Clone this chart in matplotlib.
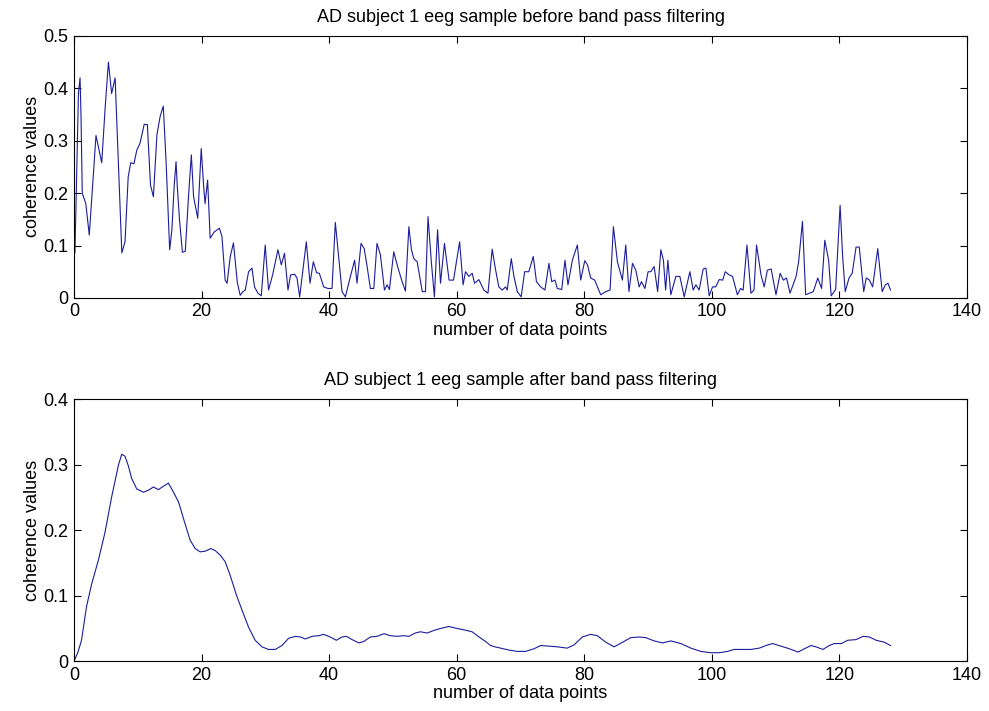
import numpy as np
import matplotlib
matplotlib.use("Agg")
import matplotlib.pyplot as plt

plt.rcParams['font.family'] = ['Liberation Sans', 'DejaVu Sans']

# --- data (vertex positions of the traces) ---
raw_x = [0, 0.15, 0.7, 0.95, 1.1, 1.3, 1.85, 2.4, 3.0, 3.45, 4.35, 4.9, 5.4, 5.9, 6.45, 7.0,
         7.5, 8.0, 8.5, 8.9, 9.4, 9.85, 10.35, 11.0, 11.5, 12.0, 12.45, 13.0, 13.5, 14.0, 14.45,
         15.0, 15.35, 15.7, 16.0, 16.2, 16.55, 17.0, 17.45, 17.95, 18.4, 18.75, 19.4, 19.95,
         20.3, 20.55, 20.95, 21.35, 22.0, 22.8, 23.2, 23.7, 24.0, 24.5, 25.0, 25.6, 26.05,
         26.5, 26.85, 27.37, 27.9, 28.3, 28.84, 29.36, 29.98, 30.5, 31.14, 31.97, 32.5, 33.0,
         33.55, 33.96, 34.6, 34.96, 35.38, 36.42, 37.0, 37.52, 38.04, 38.46, 39.15, 39.82,
         40.45, 40.97, 41.6, 42.02, 42.55, 43.33, 44.0, 44.37, 45.0, 45.5, 45.95, 46.47, 47.0,
         47.5, 48.04, 48.67, 49.1, 49.45, 50.13, 50.8, 51.44, 51.96, 52.5, 52.9, 53.27, 53.8,
         54.6, 55.1, 55.5, 56.04, 56.5, 57.0, 57.46, 58.08, 58.8, 59.5, 60.45, 61.0, 61.38,
         61.9, 62.43, 62.8, 63.47, 64.25, 64.9, 65.56, 66.1, 66.6, 67.14, 67.66, 67.92, 68.55,
         68.97, 69.5, 70.1, 70.65, 71.3, 72.0, 72.5, 73.16, 73.83, 74.46, 74.89, 75.4, 75.77,
         76.46, 76.97, 77.44, 78.13, 78.91, 79.44, 80.07, 80.5, 81.0, 81.63, 82.57, 83.36,
         84.04, 84.56, 85.19, 85.97, 86.5, 87.0, 87.55, 88.07, 88.6, 88.96, 89.5, 90.0, 90.42,
         90.94, 91.5, 92.0, 92.4, 92.75, 93.1, 93.56, 94.35, 94.98, 95.66, 96.55, 97.07, 97.49,
         98.0, 98.63, 99.06, 99.58, 100.1, 100.6, 101.15, 101.7, 102.1, 102.7, 103.24, 104.0,
         104.5, 104.9, 105.5, 106.12, 106.6, 107.0, 107.7, 108.2, 108.7, 109.3, 110.05, 110.7,
         111.2, 111.7, 112.25, 113.2, 113.6, 114.2, 114.7, 115.9, 116.6, 117.2, 117.7, 118.3,
         118.7, 119.4, 120.1, 120.5, 120.9, 121.5, 122.0, 122.6, 123.1, 123.8, 124.2, 124.7,
         125.2, 126.0, 126.7, 127.2, 127.6, 128.0]
raw_y = [0.14, 0.086, 0.39, 0.42, 0.35, 0.20, 0.18, 0.12, 0.23, 0.31, 0.258, 0.365, 0.45, 0.39,
         0.42, 0.244, 0.086, 0.107, 0.231, 0.258, 0.256, 0.282, 0.295, 0.331, 0.331, 0.215,
         0.193, 0.311, 0.346, 0.366, 0.257, 0.092, 0.13, 0.212, 0.26, 0.212, 0.148, 0.087,
         0.089, 0.193, 0.273, 0.193, 0.152, 0.285, 0.218, 0.18, 0.225, 0.114, 0.126, 0.133,
         0.117, 0.034, 0.028, 0.079, 0.105, 0.03, 0.005, 0.012, 0.015, 0.050, 0.057, 0.021,
         0.009, 0.004, 0.101, 0.015, 0.044, 0.092, 0.063, 0.085, 0.015, 0.044, 0.045, 0.038,
         0.002, 0.107, 0.028, 0.069, 0.048, 0.047, 0.021, 0.018, 0.018, 0.144, 0.066, 0.012,
         0.002, 0.041, 0.072, 0.028, 0.104, 0.094, 0.060, 0.018, 0.018, 0.104, 0.082, 0.015,
         0.025, 0.016, 0.088, 0.057, 0.031, 0.013, 0.136, 0.092, 0.075, 0.069, 0.012, 0.012,
         0.155, 0.066, 0.002, 0.130, 0.028, 0.104, 0.034, 0.034, 0.107, 0.025, 0.050, 0.041,
         0.047, 0.028, 0.035, 0.015, 0.009, 0.093, 0.053, 0.021, 0.015, 0.021, 0.015, 0.075,
         0.041, 0.012, 0.002, 0.050, 0.050, 0.079, 0.031, 0.021, 0.015, 0.066, 0.031, 0.034,
         0.018, 0.016, 0.072, 0.025, 0.072, 0.101, 0.034, 0.071, 0.063, 0.038, 0.034, 0.006,
         0.012, 0.015, 0.136, 0.069, 0.034, 0.101, 0.012, 0.066, 0.053, 0.021, 0.031, 0.018,
         0.050, 0.050, 0.060, 0.012, 0.092, 0.072, 0.015, 0.072, 0.006, 0.041, 0.041, 0.002,
         0.050, 0.015, 0.025, 0.015, 0.055, 0.057, 0.004, 0.021, 0.021, 0.035, 0.034, 0.050,
         0.044, 0.041, 0.006, 0.018, 0.015, 0.101, 0.009, 0.015, 0.101, 0.044, 0.021, 0.053,
         0.055, 0.006, 0.047, 0.034, 0.038, 0.009, 0.041, 0.069, 0.146, 0.006, 0.012, 0.038,
         0.018, 0.110, 0.072, 0.004, 0.016, 0.177, 0.079, 0.012, 0.038, 0.047, 0.097, 0.097,
         0.012, 0.038, 0.034, 0.021, 0.094, 0.012, 0.025, 0.028, 0.015]

filt_x = [0, 0.63, 1.18, 1.96, 2.77, 3.82, 4.87, 5.91, 6.96, 7.48, 8.0, 8.5, 9.05, 9.84, 10.9,
          11.65, 12.45, 13.24, 14.0, 14.8, 15.6, 16.4, 17.16, 18.2, 19.0, 19.78, 20.57, 21.45,
          22.13, 22.92, 23.7, 24.49, 25.5, 26.58, 27.37, 28.4, 29.46, 30.5, 31.55, 32.6, 33.64,
          34.69, 35.5, 36.26, 37.31, 38.36, 39.14, 40.19, 41.13, 42.02, 42.7, 43.6, 44.65, 45.4,
          46.47, 47.5, 48.6, 49.6, 50.66, 51.7, 52.5, 53.5, 54.3, 55.36, 56.4, 57.45, 58.76,
          60.07, 61.1, 62.4, 63.5, 64.55, 65.3, 66.0, 66.88, 68.2, 69.5, 70.8, 72.1, 73.17,
          74.5, 75.77, 77.3, 78.4, 79.7, 81.0, 82.05, 83.37, 84.68, 86.0, 87.28, 88.6, 89.64,
          90.95, 92.26, 93.57, 95.14, 96.7, 98.27, 99.8, 101.15, 102.46, 103.5, 104.8, 106.1,
          107.43, 108.5, 109.5, 110.85, 112.15, 113.5, 114.5, 115.55, 116.3, 117.4, 118.4,
          119.2, 120.3, 121.3, 122.6, 123.7, 124.7, 125.75, 127.05, 128.0]
filt_y = [0.0, 0.014, 0.032, 0.083, 0.118, 0.154, 0.197, 0.251, 0.299, 0.316, 0.313, 0.299,
          0.279, 0.263, 0.258, 0.261, 0.266, 0.262, 0.267, 0.272, 0.258, 0.243, 0.218, 0.185,
          0.172, 0.167, 0.168, 0.172, 0.169, 0.162, 0.152, 0.131, 0.100, 0.072, 0.052, 0.032,
          0.022, 0.018, 0.018, 0.024, 0.035, 0.038, 0.037, 0.034, 0.038, 0.039, 0.041, 0.037,
          0.032, 0.037, 0.038, 0.033, 0.028, 0.030, 0.037, 0.038, 0.042, 0.039, 0.038, 0.039,
          0.038, 0.043, 0.045, 0.043, 0.047, 0.050, 0.053, 0.050, 0.048, 0.045, 0.037, 0.030,
          0.024, 0.022, 0.020, 0.017, 0.015, 0.015, 0.019, 0.024, 0.023, 0.022, 0.020, 0.025,
          0.037, 0.041, 0.039, 0.029, 0.022, 0.029, 0.036, 0.037, 0.036, 0.031, 0.028, 0.031,
          0.027, 0.020, 0.015, 0.013, 0.013, 0.015, 0.018, 0.018, 0.018, 0.020, 0.024, 0.027,
          0.023, 0.019, 0.014, 0.019, 0.024, 0.022, 0.018, 0.024, 0.027, 0.027, 0.032, 0.033,
          0.038, 0.037, 0.032, 0.029, 0.024]

x_ticks = [0, 20, 40, 60, 80, 100, 120, 140]
top_yticks = [0, 0.1, 0.2, 0.3, 0.4, 0.5]
bot_yticks = [0, 0.1, 0.2, 0.3, 0.4]

titles = ['AD subject 1 eeg sample before band pass filtering',
          'AD subject 1 eeg sample after band pass filtering']

line_color = '#1c1c9c'

fig = plt.figure(figsize=(9.89, 7.11), dpi=100, facecolor='white')
ax1 = fig.add_axes([0.0748, 0.581, 0.903, 0.3685])
ax2 = fig.add_axes([0.0748, 0.070, 0.903, 0.3685])

panels = [(ax1, raw_x, raw_y, top_yticks), (ax2, filt_x, filt_y, bot_yticks)]

for i, (ax, xs, ys, yt) in enumerate(panels):
    ax.plot(xs, ys, color=line_color, lw=0.8)
    ax.set_xlim(0, 140)
    ax.set_ylim(yt[0], yt[-1])
    ax.set_xticks(x_ticks)
    ax.set_xticklabels([str(t) for t in x_ticks])
    ax.set_yticks(yt)
    ax.set_yticklabels(['0' if t == 0 else f'{t:g}' for t in yt])
    ax.tick_params(direction='in', top=True, right=True, length=5, width=0.8,
                   labelsize=13, pad=4)
    for sp in ax.spines.values():
        sp.set_linewidth(0.8)
    ax.set_xlabel('number of data points', fontsize=13, labelpad=1)
    ax.set_ylabel('coherence values', fontsize=13, labelpad=2)
    ax.set_title(titles[i], fontsize=13, pad=10)

fig.savefig('out.png', dpi=100, facecolor='white')
